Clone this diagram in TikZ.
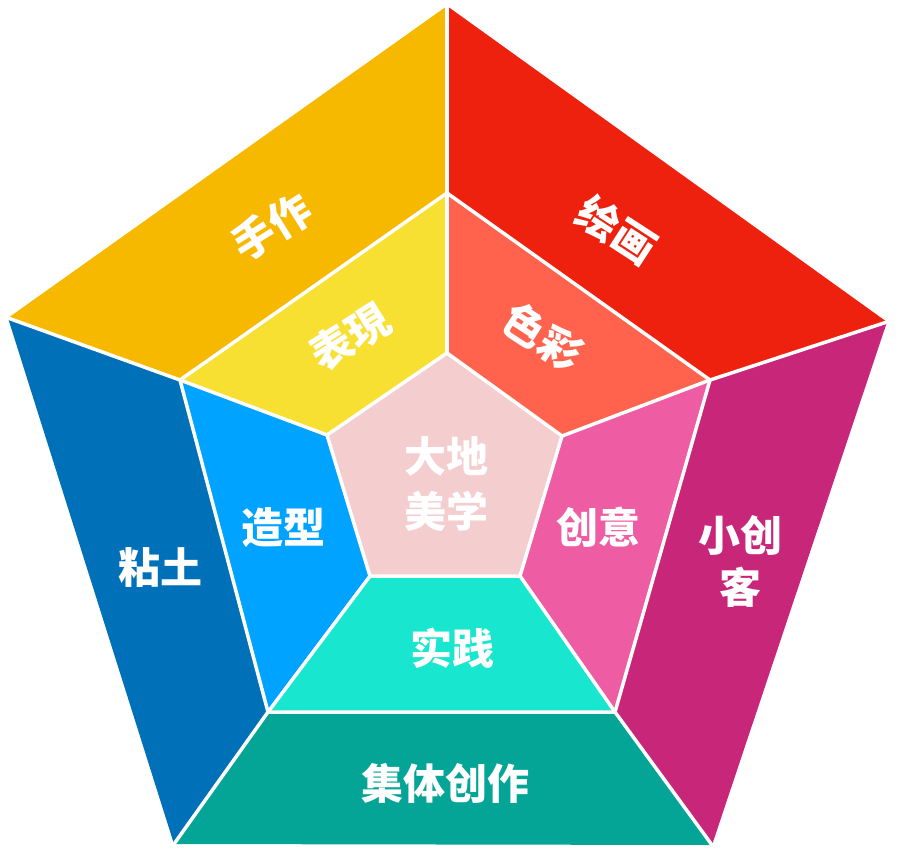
\documentclass[tikz,border=0pt]{standalone}
\usepackage{fontspec}
\newfontfamily\cjk{Noto Sans CJK SC}

\definecolor{shouzuo}{RGB}{247,185,0}
\definecolor{huihua}{RGB}{238,33,15}
\definecolor{xiaochuangke}{RGB}{200,38,121}
\definecolor{jiti}{RGB}{4,165,151}
\definecolor{niantu}{RGB}{0,113,184}
\definecolor{biaoxian}{RGB}{248,224,50}
\definecolor{secai}{RGB}{255,99,77}
\definecolor{chuangyi}{RGB}{238,92,164}
\definecolor{shijian}{RGB}{25,230,206}
\definecolor{zaoxing}{RGB}{0,163,255}
\definecolor{dadi}{RGB}{244,205,206}

\tikzset{
  seam/.style={draw=white, line width=3.5pt, line join=round, line cap=round},
  lbl/.style={text=white, font=\cjk\bfseries\fontsize{42}{55}\selectfont, inner sep=0pt, align=center},
}

\begin{document}
\begin{tikzpicture}[x=1pt,y=-1pt]
\useasboundingbox (0,0) rectangle (900,863);

% outer ring
\coordinate (OT) at (447,6);
\coordinate (OR) at (887,322);
\coordinate (OBR) at (712,845);
\coordinate (OBL) at (174,844);
\coordinate (OL) at (8,318);
% middle ring
\coordinate (MT) at (447,193);
\coordinate (MR) at (710,380);
\coordinate (MBR) at (615,712);
\coordinate (MBL) at (268,712);
\coordinate (ML) at (180,380);
% centre
\coordinate (IT) at (447,353);
\coordinate (IR) at (562,436);
\coordinate (IBR) at (520,576);
\coordinate (IBL) at (370,576);
\coordinate (IL) at (327,435);

\fill[shouzuo] (OT) -- (OL) -- (ML) -- (MT) -- cycle;
\fill[huihua] (OT) -- (OR) -- (MR) -- (MT) -- cycle;
\fill[xiaochuangke] (OR) -- (OBR) -- (MBR) -- (MR) -- cycle;
\fill[jiti] (OBR) -- (OBL) -- (MBL) -- (MBR) -- cycle;
\fill[niantu] (OBL) -- (OL) -- (ML) -- (MBL) -- cycle;

\fill[biaoxian] (MT) -- (ML) -- (IL) -- (IT) -- cycle;
\fill[secai] (MT) -- (MR) -- (IR) -- (IT) -- cycle;
\fill[chuangyi] (MR) -- (MBR) -- (IBR) -- (IR) -- cycle;
\fill[shijian] (MBR) -- (MBL) -- (IBL) -- (IBR) -- cycle;
\fill[zaoxing] (MBL) -- (ML) -- (IL) -- (IBL) -- cycle;

\fill[dadi] (IT) -- (IR) -- (IBR) -- (IBL) -- (IL) -- cycle;

% white seams
\draw[seam] (MT) -- (MR) -- (MBR) -- (MBL) -- (ML) -- cycle;
\draw[seam] (IT) -- (IR) -- (IBR) -- (IBL) -- (IL) -- cycle;
\draw[seam] (OT) -- (MT) -- (IT);
\draw[seam] (OR) -- (MR) -- (IR);
\draw[seam] (OBR) -- (MBR) -- (IBR);
\draw[seam] (OBL) -- (MBL) -- (IBL);
\draw[seam] (OL) -- (ML) -- (IL);

\node[lbl, rotate=32] (shouzuoText) at (272,227) {手作};
\node[lbl, rotate=32] (biaoxianText) at (350,337) {表現};
\node[lbl, rotate=-33] (huihuaText) at (617,230) {绘画};
\node[lbl, rotate=-33] (secaiText) at (543,337) {色彩};
\node[lbl] (niantuText) at (160,568) {粘土};
\node[lbl] (zaoxingText) at (283,528) {造型};
\node[lbl] (chuangyiText) at (598,527) {创意};
\node[lbl] (xiaochuangkeText) at (740,561) {小创\\[-3pt]客};
\node[lbl] (shijianText) at (452,648) {实践};
\node[lbl] (jitiText) at (445,783) {集体创作};
\node[lbl] (dadiText) at (446,484) {大地\\美学};
\end{tikzpicture}
\end{document}
